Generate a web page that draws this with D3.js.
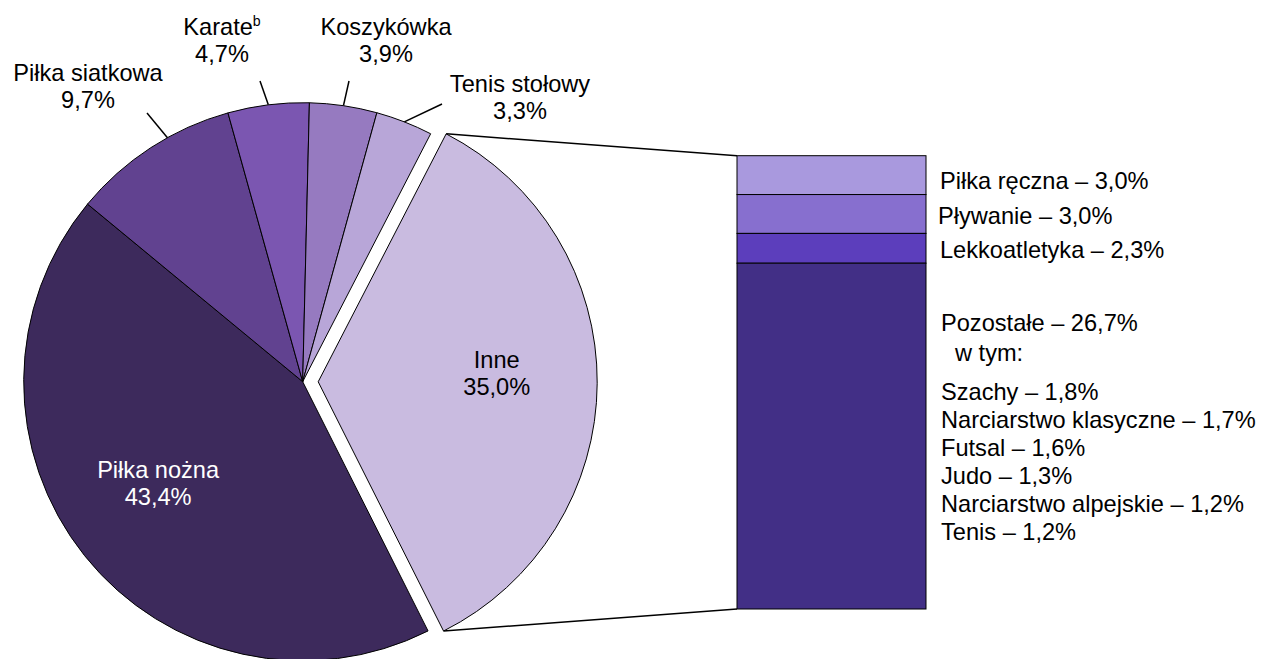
<!DOCTYPE html>
<html>
<head>
<meta charset="utf-8">
<script src="https://cdn.jsdelivr.net/npm/d3@7"></script>
<style>
  body { margin: 0; background: #fff; }
  svg { display: block; font-family: "Liberation Sans", Arial, sans-serif; }
</style>
</head>
<body>
<svg id="chart" width="1261" height="659"></svg>
<script>
// pie: order is clockwise starting at the lower right
let pieNames = ["Piłka nożna", "Piłka siatkowa", "Karate", "Koszykówka", "Tenis stołowy", "Inne"];
let pieValues = [43.4, 9.7, 4.7, 3.9, 3.3, 35.0];

// breakdown of "Inne" (top to bottom)
let barNames = ["Piłka ręczna", "Pływanie", "Lekkoatletyka", "Pozostałe"];
let barValues = [3.0, 3.0, 2.3, 26.7];

// "w tym:" list under Pozostałe
let restNames = ["Szachy", "Narciarstwo klasyczne", "Futsal", "Judo", "Narciarstwo alpejskie", "Tenis"];
let restValues = [1.8, 1.7, 1.6, 1.3, 1.2, 1.2];

let pieColors = ["#3d2a5c", "#614290", "#7b56b1", "#967ac0", "#b8a6d8", "#c9bbe0"];
let barColors = ["#a999de", "#876fcf", "#5c3ebc", "#422f86"];

let pl = d3.formatLocale({decimal: ",", thousands: " ", grouping: [3], currency: ["", " zł"]});
let pct = v => pl.format(".1f")(v) + "%";

let svg = d3.select("#chart");
let fs = 23.6;

let cx = 302.7, cy = 381.7, R = 279;
let explode = 15.5;
let start = 153.3 * Math.PI / 180;

let data = pieNames.map((n, i) => ({name: n, value: pieValues[i]}));
let pie = d3.pie().sort(null).value(d => d.value)
	.startAngle(start).endAngle(start + 2 * Math.PI);
let arcs = pie(data);
let arc = d3.arc().innerRadius(0).outerRadius(R);
let color = d3.scaleOrdinal().domain(pieNames).range(pieColors);

let polar = (a, r) => [r * Math.sin(a), -r * Math.cos(a)];
let mid = d => (d.startAngle + d.endAngle) / 2;
let shift = d => d.data.name == "Inne" ? polar(mid(d), explode) : [0, 0];

let g = svg.append("g").attr("transform", `translate(${cx},${cy})`);

g.selectAll("path.slice")
	.data(arcs)
	.enter()
	.append("path")
	.attr("class", "slice")
	.attr("d", arc)
	.attr("transform", d => `translate(${shift(d)})`)
	.attr("fill", d => color(d.data.name))
	.attr("stroke", "#000")
	.attr("stroke-width", 1)
	.attr("stroke-linejoin", "round");

// labels inside the two big slices
let insideTweak = {"Inne": 0, "Piłka nożna": -5};
let inside = arcs.filter(d => d.data.name in insideTweak);
let inLab = g.selectAll("text.inside")
	.data(inside)
	.enter()
	.append("text")
	.attr("class", "inside")
	.attr("text-anchor", "middle")
	.attr("font-size", fs)
	.attr("fill", d => d.data.name == "Inne" ? "#000" : "#fff")
	.attr("transform", d => {
		let s = shift(d), p = polar(mid(d), R * 0.64);
		return `translate(${s[0] + p[0] + insideTweak[d.data.name]},${s[1] + p[1] - 10})`;
	});
inLab.append("tspan").attr("x", 0).attr("y", -5).text(d => d.data.name);
inLab.append("tspan").attr("x", 0).attr("y", 22).text(d => pct(d.data.value));

// outside labels with leader lines (label anchor in page coords, da = leader start tweak in degrees)
let outside = {
	"Piłka siatkowa": {x: 88, y: 81, lx: 147, ly: 113, da: 4},
	"Karate": {x: 222, y: 35, lx: 260, ly: 81, da: 0},
	"Koszykówka": {x: 386, y: 35, lx: 349, ly: 81, da: 0},
	"Tenis stołowy": {x: 520, y: 92, lx: 442, ly: 104, da: 0}
};
let outArcs = arcs.filter(d => outside[d.data.name]);
let leadStart = d => polar(mid(d) + outside[d.data.name].da * Math.PI / 180, R);

g.selectAll("line.leader")
	.data(outArcs)
	.enter()
	.append("line")
	.attr("class", "leader")
	.attr("x1", d => leadStart(d)[0])
	.attr("y1", d => leadStart(d)[1])
	.attr("x2", d => outside[d.data.name].lx - cx)
	.attr("y2", d => outside[d.data.name].ly - cy)
	.attr("stroke", "#000")
	.attr("stroke-width", 1.5);

let outLab = svg.selectAll("text.outside")
	.data(outArcs)
	.enter()
	.append("text")
	.attr("class", "outside")
	.attr("text-anchor", "middle")
	.attr("font-size", fs)
	.attr("transform", d => `translate(${outside[d.data.name].x},${outside[d.data.name].y})`);
let first = outLab.append("tspan").attr("x", 0).attr("y", 0).text(d => d.data.name);
first.filter(d => d.data.name == "Karate")
	.append("tspan")
	.attr("font-size", fs * 0.6)
	.attr("dy", -9)
	.text("b");
outLab.append("tspan").attr("x", 0).attr("y", 27).text(d => pct(d.data.value));

// stacked bar for the breakdown of "Inne"
let barX = 737, barW = 189, barTop = 155.7, barBottom = 609;
let inne = arcs.find(d => d.data.name == "Inne");
let total = d3.sum(barValues);
let y = d3.scaleLinear().domain([0, total]).range([barTop, barBottom]);
let cum = d3.cumsum(barValues);
let bars = barNames.map((n, i) => ({name: n, value: barValues[i], y0: cum[i] - barValues[i], y1: cum[i]}));

// connector lines from the exploded slice to the bar
let s = shift(inne);
let c1 = polar(inne.startAngle, R), c2 = polar(inne.endAngle, R);
svg.append("line")
	.attr("x1", cx + s[0] + c1[0]).attr("y1", cy + s[1] + c1[1])
	.attr("x2", barX).attr("y2", y(0))
	.attr("stroke", "#000").attr("stroke-width", 1.5);
svg.append("line")
	.attr("x1", cx + s[0] + c2[0]).attr("y1", cy + s[1] + c2[1])
	.attr("x2", barX).attr("y2", y(total))
	.attr("stroke", "#000").attr("stroke-width", 1.5);

svg.selectAll("rect.bar")
	.data(bars)
	.enter()
	.append("rect")
	.attr("class", "bar")
	.attr("x", barX)
	.attr("y", d => y(d.y0))
	.attr("width", barW)
	.attr("height", d => y(d.y1) - y(d.y0))
	.attr("fill", (d, i) => barColors[i])
	.attr("stroke", "#000")
	.attr("stroke-width", 1);

let barLabY = [189, 224, 258, 331];
let barLabX = [940, 938, 940, 941];
svg.selectAll("text.barlab")
	.data(bars)
	.enter()
	.append("text")
	.attr("class", "barlab")
	.attr("x", (d, i) => barLabX[i])
	.attr("y", (d, i) => barLabY[i])
	.attr("font-size", fs)
	.text(d => d.name + " – " + pct(d.value));

svg.append("text")
	.attr("x", 955).attr("y", 361)
	.attr("font-size", fs)
	.text("w tym:");

svg.selectAll("text.rest")
	.data(restNames)
	.enter()
	.append("text")
	.attr("class", "rest")
	.attr("x", 941)
	.attr("y", (d, i) => 400 + i * 28)
	.attr("font-size", fs)
	.text((d, i) => d + " – " + pct(restValues[i]));
</script>
</body>
</html>
